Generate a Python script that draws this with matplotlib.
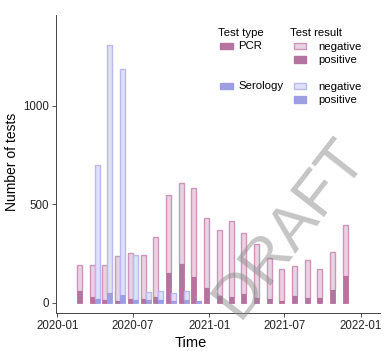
import datetime as dt
import numpy as np
import matplotlib
matplotlib.use("Agg")
import matplotlib.pyplot as plt
import matplotlib.dates as mdates
from matplotlib.patches import Rectangle

plt.rcParams['font.family'] = ['Liberation Sans', 'DejaVu Sans']

# monthly test counts
pcr_months = ["2020-03", "2020-04", "2020-05", "2020-06", "2020-07", "2020-08",
              "2020-09", "2020-10", "2020-11", "2020-12", "2021-01", "2021-02",
              "2021-03", "2021-04", "2021-05", "2021-06", "2021-07", "2021-08",
              "2021-09", "2021-10", "2021-11", "2021-12"]
pcr_positive = [61, 31, 13, 12, 20, 20, 28, 152, 196, 134, 78, 37,
                32, 46, 24, 19, 12, 37, 27, 27, 66, 137]
pcr_negative = [132, 162, 180, 228, 232, 224, 306, 396, 412, 448, 352, 334,
                386, 308, 274, 211, 159, 151, 191, 144, 191, 259]

sero_months = ["2020-04", "2020-05", "2020-06", "2020-07", "2020-08",
               "2020-09", "2020-10", "2020-11", "2020-12"]
sero_positive = [22, 52, 41, 13, 15, 15, 12, 15, 8]
sero_negative = [678, 1258, 1145, 231, 41, 47, 38, 44, 2]

x_ticks = ["2020-01", "2020-07", "2021-01", "2021-07", "2022-01"]
y_ticks = [0, 500, 1000]

pcr_dark, pcr_light, pcr_edge = "#b5739f", "#ead2e2", "#cc95b9"
sero_dark, sero_light, sero_edge = "#9e9ee2", "#e0e0f7", "#b9b9ee"

W, H = 386, 351
fig = plt.figure(figsize=(W / 100, H / 100), dpi=100)
ax = fig.add_axes([56 / W, 1 - 313 / H, (380 - 56) / W, (313 - 15) / H])


def to_dates(months):
    return [dt.datetime.strptime(m, "%Y-%m") for m in months]


width = 12  # days
offset = dt.timedelta(days=6)
pcr_x = mdates.date2num([d - offset for d in to_dates(pcr_months)])
sero_x = mdates.date2num([d + offset for d in to_dates(sero_months)])

for xs, pos, neg, dark, light, edge in [
        (pcr_x, pcr_positive, pcr_negative, pcr_dark, pcr_light, pcr_edge),
        (sero_x, sero_positive, sero_negative, sero_dark, sero_light, sero_edge)]:
    ax.bar(xs, neg, width=width, bottom=pos, color=light, edgecolor=edge, linewidth=1.0)
    ax.bar(xs, pos, width=width, color=dark, edgecolor=dark, linewidth=0.6)

start = mdates.date2num(dt.datetime(2020, 1, 1))
ax.set_xlim(start - 3, start + 778)
ax.set_ylim(-51, 1462)
ax.set_xticks(mdates.date2num(to_dates(x_ticks)))
ax.set_xticklabels(x_ticks)
ax.set_yticks(y_ticks)
ax.tick_params(labelsize=8.3, colors="#333333", length=3, width=0.6, pad=2)
for lab in ax.get_xticklabels() + ax.get_yticklabels():
    lab.set_color("#222222")
for s in ["top", "right"]:
    ax.spines[s].set_visible(False)
for s in ["left", "bottom"]:
    ax.spines[s].set_color("#444444")
    ax.spines[s].set_linewidth(0.7)

fig.text(191 / W, 1 - 343 / H, "Time", ha="center", va="center", fontsize=10.5)
fig.text(12 / W, 1 - 162 / H, "Number of tests", ha="center", va="center",
         rotation=90, fontsize=10)


# legend drawn by hand (two blocks: type and result)
def px(x, y):
    return x / W, 1 - y / H


def swatch(x, y, w, h, fc, ec):
    fig.add_artist(Rectangle(px(x, y + h), w / W, h / H, facecolor=fc,
                             edgecolor=ec, linewidth=1.0, transform=fig.transFigure))


fs = 8.2
fig.text(*px(218, 33), "Test type", fontsize=fs, va="center")
fig.text(*px(290, 33), "Test result", fontsize=fs, va="center")
for y0, name, dark, light, edge in [(43, "PCR", pcr_dark, pcr_light, pcr_edge),
                                    (83, "Serology", sero_dark, sero_light, sero_edge)]:
    swatch(220, y0, 13, 6, dark, dark)
    fig.text(*px(238, y0 + 3), name, fontsize=fs, va="center")
    swatch(294, y0, 12, 6, light, edge)
    fig.text(*px(318, y0 + 3.5), "negative", fontsize=fs, va="center")
    swatch(294, y0 + 13.5, 12, 6, dark, dark)
    fig.text(*px(318, y0 + 17), "positive", fontsize=fs, va="center")

# faint watermark in the lower right corner
fig.text(*px(290, 228), "DRAFT", fontsize=45, rotation=52, color="#8c8c8c",
         alpha=0.5, ha="center", va="center")

fig.savefig("out.png", dpi=100)
